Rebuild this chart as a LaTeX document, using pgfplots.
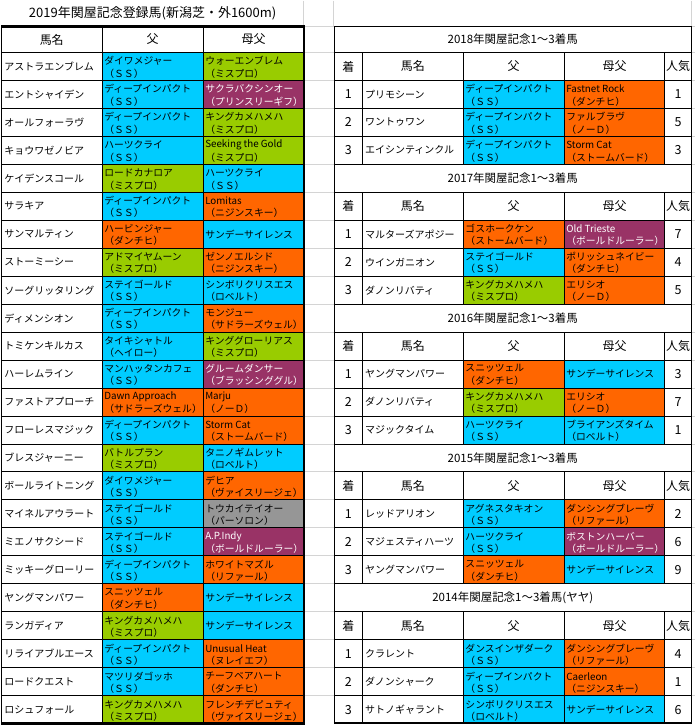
\documentclass[border=0pt]{standalone}
\usepackage{fontspec}
\setmainfont{Noto Sans CJK JP}
\usepackage{pgfplots}
\pgfplotsset{compat=1.18}
\usepackage{pgfplotstable}

\definecolor{cb}{HTML}{00CCFF}
\definecolor{cg}{HTML}{99CC00}
\definecolor{co}{HTML}{FF6600}
\definecolor{cp}{HTML}{993366}
\definecolor{cgr}{HTML}{969696}
\definecolor{gridc}{HTML}{D4D4D4}

\newcommand{\cell}[5]{\addplot[fill=#5,draw=none,forget plot] coordinates {(#1,#3)(#2,#3)(#2,#4)(#1,#4)} --cycle;}
\newcommand{\lrow}[4]{\cell{101}{202}{#1}{#2}{#3}\cell{202}{303}{#1}{#2}{#4}}
\newcommand{\rrow}[4]{\cell{462.5}{563.5}{#1}{#2}{#3}\cell{563.5}{664}{#1}{#2}{#4}}
\newcommand{\hl}[4]{\addplot[#4,forget plot] coordinates {(#2,#1)(#3,#1)};}
\newcommand{\vl}[4]{\addplot[#4,forget plot] coordinates {(#1,#2)(#1,#3)};}

\pgfplotsset{
  txt/.style n args={3}{only marks, mark=none, forget plot, nodes near coords,
    point meta=explicit symbolic,
    nodes near coords align={anchor=#1},
    every node near coord/.append style={inner sep=0pt, anchor=#1, text=#2, font=\fontsize{#3}{#3}\selectfont}}
}

% names (west)
\pgfplotstableread[col sep=comma]{
x,y,t
3,66,アストラエンブレム
3,94,エントシャイデン
3,122,オールフォーラヴ
3,150,キョウワゼノビア
3,178,ケイデンスコール
3,206,サラキア
3,234,サンマルティン
3,262,ストーミーシー
3,290,ソーグリッタリング
3,318,ディメンシオン
3,346,トミケンキルカス
3,374,ハーレムライン
3,402,ファストアプローチ
3,430,フローレスマジック
3,458,ブレスジャーニー
3,486,ボールライトニング
3,514,マイネルアウラート
3,542,ミエノサクシード
3,570,ミッキーグローリー
3,598,ヤングマンパワー
3,626,ランガディア
3,654,リライアブルエース
3,682,ロードクエスト
3,710,ロシュフォール
364,94,プリモシーン
364,122,ワントゥワン
364,150,エイシンティンクル
364,234,マルターズアポジー
364,262,ウインガニオン
364,290,ダノンリバティ
364,374,ヤングマンパワー
364,402,ダノンリバティ
364,430,マジックタイム
364,514,レッドアリオン
364,542,マジェスティハーツ
364,570,ヤングマンパワー
364,654,クラレント
364,682,ダノンシャーク
364,710,サトノギャラント
}\names

% cell texts, black (west)
\pgfplotstableread[col sep=comma]{
x,y,t
103,60.5,ダイワメジャー
103,73,（ＳＳ）
103,88.5,ディープインパクト
103,101,（ＳＳ）
103,116.5,ディープインパクト
103,129,（ＳＳ）
103,144.5,ハーツクライ
103,157,（ＳＳ）
103,172.5,ロードカナロア
103,185,（ミスプロ）
103,200.5,ディープインパクト
103,213,（ＳＳ）
103,228.5,ハービンジャー
103,241,（ダンチヒ）
103,256.5,アドマイヤムーン
103,269,（ミスプロ）
103,284.5,ステイゴールド
103,297,（ＳＳ）
103,312.5,ディープインパクト
103,325,（ＳＳ）
103,340.5,タイキシャトル
103,353,（ヘイロー）
103,368.5,マンハッタンカフェ
103,381,（ＳＳ）
103,396.5,Dawn Approach
103,409,（サドラーズウェル）
103,424.5,ディープインパクト
103,437,（ＳＳ）
103,452.5,バトルプラン
103,465,（ミスプロ）
103,480.5,ダイワメジャー
103,493,（ＳＳ）
103,508.5,ステイゴールド
103,521,（ＳＳ）
103,536.5,ステイゴールド
103,549,（ＳＳ）
103,564.5,ディープインパクト
103,577,（ＳＳ）
103,592.5,スニッツェル
103,605,（ダンチヒ）
103,620.5,キングカメハメハ
103,633,（ミスプロ）
103,648.5,ディープインパクト
103,661,（ＳＳ）
103,676.5,マツリダゴッホ
103,689,（ＳＳ）
103,704.5,キングカメハメハ
103,717,（ミスプロ）
204,60.5,ウォーエンブレム
204,73,（ミスプロ）
204,116.5,キングカメハメハ
204,129,（ミスプロ）
204,144.5,Seeking the Gold
204,157,（ミスプロ）
204,172.5,ハーツクライ
204,185,（ＳＳ）
204,200.5,Lomitas
204,213,（ニジンスキー）
204,234,サンデーサイレンス
204,256.5,ゼンノエルシド
204,269,（ニジンスキー）
204,284.5,シンボリクリスエス
204,297,（ロベルト）
204,312.5,モンジュー
204,325,（サドラーズウェル）
204,340.5,キンググローリアス
204,353,（ミスプロ）
204,396.5,Marju
204,409,（ノーＤ）
204,424.5,Storm Cat
204,437,（ストームバード）
204,452.5,タニノギムレット
204,465,（ロベルト）
204,480.5,デヒア
204,493,（ヴァイスリージェ）
204,508.5,トウカイテイオー
204,521,（パーソロン）
204,564.5,ホワイトマズル
204,577,（リファール）
204,598,サンデーサイレンス
204,626,サンデーサイレンス
204,648.5,Unusual Heat
204,661,（ヌレイエフ）
204,676.5,チーフベアハート
204,689,（ダンチヒ）
204,704.5,フレンチデピュティ
204,717,（ヴァイスリージェ）
464.5,88.5,ディープインパクト
464.5,101,（ＳＳ）
464.5,116.5,ディープインパクト
464.5,129,（ＳＳ）
464.5,144.5,ディープインパクト
464.5,157,（ＳＳ）
464.5,228.5,ゴスホークケン
464.5,241,（ストームバード）
464.5,256.5,ステイゴールド
464.5,269,（ＳＳ）
464.5,284.5,キングカメハメハ
464.5,297,（ミスプロ）
464.5,368.5,スニッツェル
464.5,381,（ダンチヒ）
464.5,396.5,キングカメハメハ
464.5,409,（ミスプロ）
464.5,424.5,ハーツクライ
464.5,437,（ＳＳ）
464.5,508.5,アグネスタキオン
464.5,521,（ＳＳ）
464.5,536.5,ハーツクライ
464.5,549,（ＳＳ）
464.5,564.5,スニッツェル
464.5,577,（ダンチヒ）
464.5,648.5,ダンスインザダーク
464.5,661,（ＳＳ）
464.5,676.5,ディープインパクト
464.5,689,（ＳＳ）
464.5,704.5,シンボリクリスエス
464.5,717,（ロベルト）
565.5,88.5,Fastnet Rock
565.5,101,（ダンチヒ）
565.5,116.5,ファルブラヴ
565.5,129,（ノーＤ）
565.5,144.5,Storm Cat
565.5,157,（ストームバード）
565.5,256.5,ポリッシュネイビー
565.5,269,（ダンチヒ）
565.5,284.5,エリシオ
565.5,297,（ノーＤ）
565.5,374,サンデーサイレンス
565.5,396.5,エリシオ
565.5,409,（ノーＤ）
565.5,424.5,ブライアンズタイム
565.5,437,（ロベルト）
565.5,508.5,ダンシングブレーヴ
565.5,521,（リファール）
565.5,570,サンデーサイレンス
565.5,648.5,ダンシングブレーヴ
565.5,661,（リファール）
565.5,676.5,Caerleon
565.5,689,（ニジンスキー）
565.5,710,サンデーサイレンス
}\celltxt

% cell texts, white (west)
\pgfplotstableread[col sep=comma]{
x,y,t
204,88.5,サクラバクシンオー
204,101,（プリンスリーギフ）
204,368.5,グルームダンサー
204,381,（ブラッシンググル）
204,536.5,A.P.Indy
204,549,（ボールドルーラー）
565.5,228.5,Old Trieste
565.5,241,（ボールドルーラー）
565.5,536.5,ボストンハーバー
565.5,549,（ボールドルーラー）
}\whitetxt

% numbers (centered)
\pgfplotstableread[col sep=comma]{
x,y,t
347.5,94,1
347.5,122,2
347.5,150,3
677.5,94,1
677.5,122,5
677.5,150,3
347.5,234,1
347.5,262,2
347.5,290,3
677.5,234,7
677.5,262,4
677.5,290,5
347.5,374,1
347.5,402,2
347.5,430,3
677.5,374,3
677.5,402,7
677.5,430,1
347.5,514,1
347.5,542,2
347.5,570,3
677.5,514,2
677.5,542,6
677.5,570,9
347.5,654,1
347.5,682,2
347.5,710,3
677.5,654,4
677.5,682,1
677.5,710,6
}\numtxt

% headers (centered)
\pgfplotstableread[col sep=comma]{
x,y,t
50.5,39,馬名
151.5,39,父
252.5,39,母父
347.5,66,着
412,66,馬名
513,66,父
614,66,母父
677.5,66,人気
347.5,206,着
412,206,馬名
513,206,父
614,206,母父
677.5,206,人気
347.5,346,着
412,346,馬名
513,346,父
614,346,母父
677.5,346,人気
347.5,486,着
412,486,馬名
513,486,父
614,486,母父
677.5,486,人気
347.5,626,着
412,626,馬名
513,626,父
614,626,母父
677.5,626,人気
}\headtxt

% titles (centered)
\pgfplotstableread[col sep=comma]{
x,y,t
512,39,2018年関屋記念1～3着馬
512,178,2017年関屋記念1～3着馬
512,318,2016年関屋記念1～3着馬
512,458,2015年関屋記念1～3着馬
512,598,2014年関屋記念1～3着馬(ヤヤ)
}\titletxt

\begin{document}
\begin{tikzpicture}
\begin{axis}[
  width=694pt, height=725pt, scale only axis,
  xmin=0, xmax=694, ymin=0, ymax=725, y dir=reverse,
  hide axis, clip=false,
]
% ---- cell fills: left table
\lrow{52}{80}{cb}{cg}
\lrow{80}{108}{cb}{cp}
\lrow{108}{136}{cb}{cg}
\lrow{136}{164}{cb}{cg}
\lrow{164}{192}{cg}{cb}
\lrow{192}{220}{cb}{co}
\lrow{220}{248}{co}{cb}
\lrow{248}{276}{cg}{co}
\lrow{276}{304}{cb}{cb}
\lrow{304}{332}{cb}{co}
\lrow{332}{360}{cb}{cg}
\lrow{360}{388}{cb}{cp}
\lrow{388}{416}{co}{co}
\lrow{416}{444}{cb}{co}
\lrow{444}{472}{cg}{cb}
\lrow{472}{500}{cb}{co}
\lrow{500}{528}{cb}{cgr}
\lrow{528}{556}{cb}{cp}
\lrow{556}{584}{cb}{co}
\lrow{584}{612}{co}{cb}
\lrow{612}{640}{cg}{cb}
\lrow{640}{668}{cb}{co}
\lrow{668}{696}{cb}{co}
\lrow{696}{724}{cg}{co}
% ---- cell fills: right tables
\rrow{80}{108}{cb}{co}
\rrow{108}{136}{cb}{co}
\rrow{136}{164}{cb}{co}
\rrow{220}{248}{co}{cp}
\rrow{248}{276}{cb}{co}
\rrow{276}{304}{cg}{co}
\rrow{360}{388}{co}{cb}
\rrow{388}{416}{cg}{co}
\rrow{416}{444}{cb}{cb}
\rrow{500}{528}{cb}{co}
\rrow{528}{556}{cb}{cp}
\rrow{556}{584}{co}{cb}
\rrow{640}{668}{cb}{co}
\rrow{668}{696}{cb}{co}
\rrow{696}{724}{cb}{cb}
% ---- spreadsheet grid (gray)
\pgfplotsinvokeforeach{26,52,80,108,136,164,192,220,248,276,304,332,360,388,416,444,472,500,528,556,584,612,640,668,696}{
  \hl{#1}{303}{333}{gridc, line width=1pt}
  \hl{#1}{691}{694}{gridc, line width=1pt}
}
\vl{303}{0}{26}{gridc, line width=1pt}
\vl{333}{0}{26}{gridc, line width=1pt}
\vl{691}{0}{26}{gridc, line width=1pt}
% ---- left table lines
\pgfplotsinvokeforeach{52,80,108,136,164,192,220,248,276,304,332,360,388,416,444,472,500,528,556,584,612,640,668,696}{
  \hl{#1}{0}{303}{black, line width=1pt}
}
\vl{0.5}{26}{724}{black, line width=1pt}
\vl{101}{26}{724}{black, line width=1pt}
\vl{202}{26}{724}{black, line width=1pt}
\hl{26}{0}{304.5}{black, line width=2.6pt}
\hl{723.5}{0}{304.5}{black, line width=2.6pt}
\vl{303}{26}{724}{black, line width=2.6pt}
% ---- right table lines
\pgfplotsinvokeforeach{26,52,80,108,136,164,192,220,248,276,304,332,360,388,416,444,472,500,528,556,584,612,640,668,696}{
  \hl{#1}{333}{691}{black, line width=1pt}
}
\hl{723.5}{333}{691.5}{black, line width=2pt}
\vl{333.5}{26}{724}{black, line width=1.8pt}
\vl{691}{26}{724}{black, line width=1.8pt}
\pgfplotsinvokeforeach{362,462.5,563.5,664}{
  \vl{#1}{52}{164}{black, line width=1pt}
  \vl{#1}{192}{304}{black, line width=1pt}
  \vl{#1}{332}{444}{black, line width=1pt}
  \vl{#1}{472}{584}{black, line width=1pt}
  \vl{#1}{612}{724}{black, line width=1pt}
}
% ---- texts
\addplot[txt={west}{black}{10}] table[x=x,y=y,meta=t] {\names};
\addplot[txt={west}{black}{9.8}] table[x=x,y=y,meta=t] {\celltxt};
\addplot[txt={west}{white}{9.8}] table[x=x,y=y,meta=t] {\whitetxt};
\addplot[txt={center}{black}{12.5}] table[x=x,y=y,meta=t] {\numtxt};
\addplot[txt={center}{black}{12}] table[x=x,y=y,meta=t] {\headtxt};
\addplot[txt={center}{black}{11.5}] table[x=x,y=y,meta=t] {\titletxt};
\addplot[txt={center}{black}{13}] coordinates {(151.5,13) [2019年関屋記念登録馬(新潟芝・外1600m)]};
\end{axis}
\end{tikzpicture}
\end{document}
